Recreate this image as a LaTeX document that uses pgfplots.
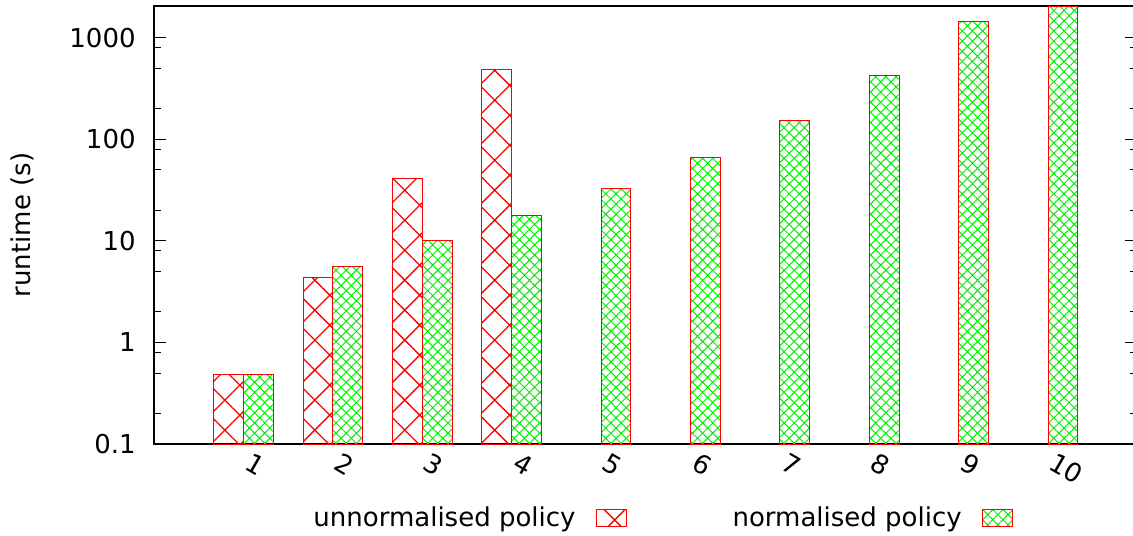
\documentclass[border=0pt]{standalone}
\usepackage{pgfplots}
\pgfplotsset{compat=1.18}
\usepackage{fontspec}
\setmainfont{DejaVu Sans}
\usetikzlibrary{patterns.meta}

\definecolor{hatchred}{RGB}{255,0,0}
\definecolor{hatchgreen}{RGB}{0,240,0}

\begin{document}
\begin{tikzpicture}[font=\fontsize{13}{15.6}\selectfont]
\begin{axis}[
  name=main,
  at={(0,0)}, anchor=south west,
  scale only axis,
  width=491.7pt, height=219pt,
  xmin=0, xmax=11,
  ymode=log, log basis y=10,
  ymin=0.1, ymax=2060,
  log origin=infty,
  axis line style={black, line width=0.7pt},
  % categories
  xtick={1,2,3,4,5,6,7,8,9,10},
  xticklabels={1,2,3,4,5,6,7,8,9,10},
  xtick pos=bottom,
  x tick style={draw=none},
  xticklabel style={yshift=-2pt, xshift=2pt, rotate=-30, anchor=west, inner sep=0pt},
  % runtime axis
  ytick={0.1,1,10,100,1000},
  yticklabels={0.1,1,10,100,1000},
  minor ytick={0.2,0.5,0.8,2,5,8,20,50,80,200,500,800},
  ytick pos=both,
  tick align=inside,
  major tick length=6pt,
  minor tick length=3.5pt,
  y tick style={black, line width=0.5pt},
  yticklabel style={anchor=east, inner sep=0pt, xshift=-9pt},
  ylabel={runtime (s)},
  ylabel style={at={(axis description cs:-0.1342,0.5)}, anchor=center},
  % bars
  ybar,
  bar width=0.3333,
  % legend below the plot
  legend columns=2,
  legend plot pos=right,
  legend style={
    at={(0.1617,-0.169)}, anchor=west,
    draw=none, fill=none, inner sep=0pt,
    nodes={inner sep=0pt},
    /tikz/every odd column/.append style={column sep=10pt},
    /tikz/every even column/.append style={column sep=53pt},
  },
  legend image code/.code={\draw[#1] (0pt,-4.25pt) rectangle (15pt,4.25pt);},
]

\addplot[
  bar shift=-0.16667,
  draw=hatchred, line width=0.5pt,
  pattern={Hatch[angle=45, distance=10.6pt, line width=0.65pt]},
  pattern color=hatchred,
] coordinates {
  (1,0.48) (2,4.4) (3,40.8) (4,492)
};
\addlegendentry{unnormalised policy}

\addplot[
  bar shift=0.16667,
  draw=hatchred, line width=0.5pt,
  pattern={Hatch[angle=45, distance=3.6pt, line width=0.5pt]},
  pattern color=hatchgreen,
] coordinates {
  (1,0.48) (2,5.6) (3,10.2) (4,17.8) (5,32.5)
  (6,65.7) (7,153) (8,422) (9,1446) (10,2060)
};
\addlegendentry{normalised policy}

\end{axis}
\pgfresetboundingbox
\path[use as bounding box]
  ([xshift=-77pt, yshift=-45.5pt]main.south west)
  rectangle ([xshift=-2.2pt, yshift=3pt]main.north east);
\end{tikzpicture}
\end{document}
